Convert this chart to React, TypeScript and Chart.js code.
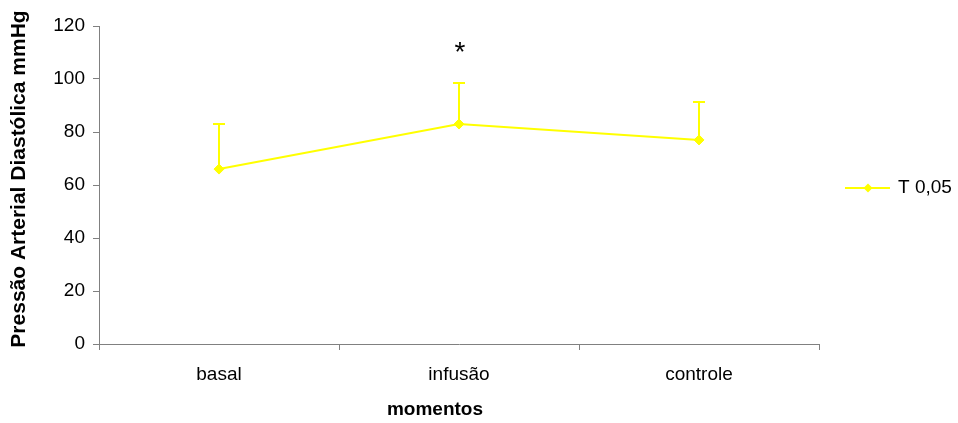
import React, { useEffect, useRef } from "react";
import { Chart, registerables } from "chart.js";

Chart.register(...registerables);

const categories = ["basal", "infusão", "controle"];
const meanValues = [66, 83, 77];
const upperValues = [83, 98.5, 91.3];
const significanceMarks = ["", "*", ""];
const markValue = 111;
const seriesLabel = "T 0,05";
const yAxisTitle = "Pressão Arterial Diastólica mmHg";
const xAxisTitle = "momentos";
const yMin = 0;
const yMax = 120;
const yStep = 20;

const YELLOW = "#FFFF00";
const AXIS = "#808080";
const FONT = "'Liberation Sans', Arial, sans-serif";

const errorBarPlugin = {
  id: "errorBars",
  afterDatasetsDraw(chart: any) {
    const { ctx, scales } = chart;
    const xs = scales.x;
    const ys = scales.y;
    ctx.save();
    ctx.strokeStyle = YELLOW;
    ctx.lineWidth = 2;
    meanValues.forEach((m, i) => {
      const x = xs.getPixelForValue(i);
      const y0 = ys.getPixelForValue(m);
      const y1 = ys.getPixelForValue(upperValues[i]);
      ctx.beginPath();
      ctx.moveTo(x, y0);
      ctx.lineTo(x, y1);
      ctx.moveTo(x - 6, y1);
      ctx.lineTo(x + 6, y1);
      ctx.stroke();
    });
    ctx.fillStyle = "#000";
    ctx.font = `28px ${FONT}`;
    ctx.textAlign = "center";
    ctx.textBaseline = "middle";
    significanceMarks.forEach((s, i) => {
      if (!s) return;
      ctx.fillText(s, xs.getPixelForValue(i) + 1, ys.getPixelForValue(markValue) + 3);
    });
    ctx.restore();
  },
};

const legendPlugin = {
  id: "lineLegend",
  afterDraw(chart: any) {
    const { ctx, chartArea } = chart;
    const yCenter = (chartArea.top + chartArea.bottom) / 2 + 3;
    const x0 = chartArea.right + 26;
    ctx.save();
    ctx.strokeStyle = YELLOW;
    ctx.lineWidth = 2;
    ctx.beginPath();
    ctx.moveTo(x0, yCenter);
    ctx.lineTo(x0 + 45, yCenter);
    ctx.stroke();
    ctx.fillStyle = YELLOW;
    ctx.beginPath();
    const cx = x0 + 23;
    const r = 4.5;
    ctx.moveTo(cx, yCenter - r);
    ctx.lineTo(cx + r, yCenter);
    ctx.lineTo(cx, yCenter + r);
    ctx.lineTo(cx - r, yCenter);
    ctx.closePath();
    ctx.fill();
    ctx.fillStyle = "#000";
    ctx.font = `19px ${FONT}`;
    ctx.textAlign = "left";
    ctx.textBaseline = "middle";
    ctx.fillText(seriesLabel, x0 + 53, yCenter);
    // x-axis title
    ctx.font = `bold 19px ${FONT}`;
    ctx.textAlign = "center";
    ctx.fillText(xAxisTitle, chartArea.left + 336, chartArea.bottom + 66);
    // y-axis title
    ctx.translate(19, chartArea.top + 153);
    ctx.rotate(-Math.PI / 2);
    ctx.font = `bold 21px ${FONT}`;
    ctx.fillText(yAxisTitle, 0, 0);
    ctx.restore();
  },
};

export default function App() {
  const canvasRef = useRef<HTMLCanvasElement | null>(null);

  useEffect(() => {
    if (!canvasRef.current) return;
    const chart = new Chart(canvasRef.current, {
      type: "line",
      data: {
        labels: categories,
        datasets: [
          {
            label: seriesLabel,
            data: meanValues,
            borderColor: YELLOW,
            backgroundColor: YELLOW,
            borderWidth: 2,
            pointStyle: "rectRot",
            pointRadius: 5,
            pointBorderWidth: 1,
            tension: 0,
          },
        ],
      },
      options: {
        animation: false,
        responsive: false,
        layout: { padding: { top: 26, right: 139, left: 0, bottom: 0 } },
        plugins: {
          legend: { display: false },
          tooltip: { enabled: false },
        },
        scales: {
          x: {
            type: "category",
            offset: true,
            grid: {
              offset: true,
              drawOnChartArea: false,
              drawTicks: true,
              tickLength: 6,
              color: AXIS,
            },
            border: { color: AXIS, width: 1 },
            ticks: {
              color: "#000",
              font: { family: FONT, size: 19 },
              padding: 13,
              maxRotation: 0,
            },
            title: { display: false },
            afterFit(scale: any) {
              scale.height = 79;
            },
          },
          y: {
            min: yMin,
            max: yMax,
            grid: {
              drawOnChartArea: false,
              drawTicks: true,
              tickLength: 6,
              color: AXIS,
            },
            border: { color: AXIS, width: 1 },
            ticks: {
              stepSize: yStep,
              color: "#000",
              font: { family: FONT, size: 19 },
              padding: 8,
            },
            title: { display: false },
            afterFit(scale: any) {
              scale.width = 99;
            },
          },
        },
      },
      plugins: [errorBarPlugin, legendPlugin],
    });
    return () => chart.destroy();
  }, []);

  return (
    <div style={{ position: "absolute", left: 0, top: 0, width: 958, height: 423, background: "#fff" }}>
      <canvas ref={canvasRef} width={958} height={423} />
    </div>
  );
}
